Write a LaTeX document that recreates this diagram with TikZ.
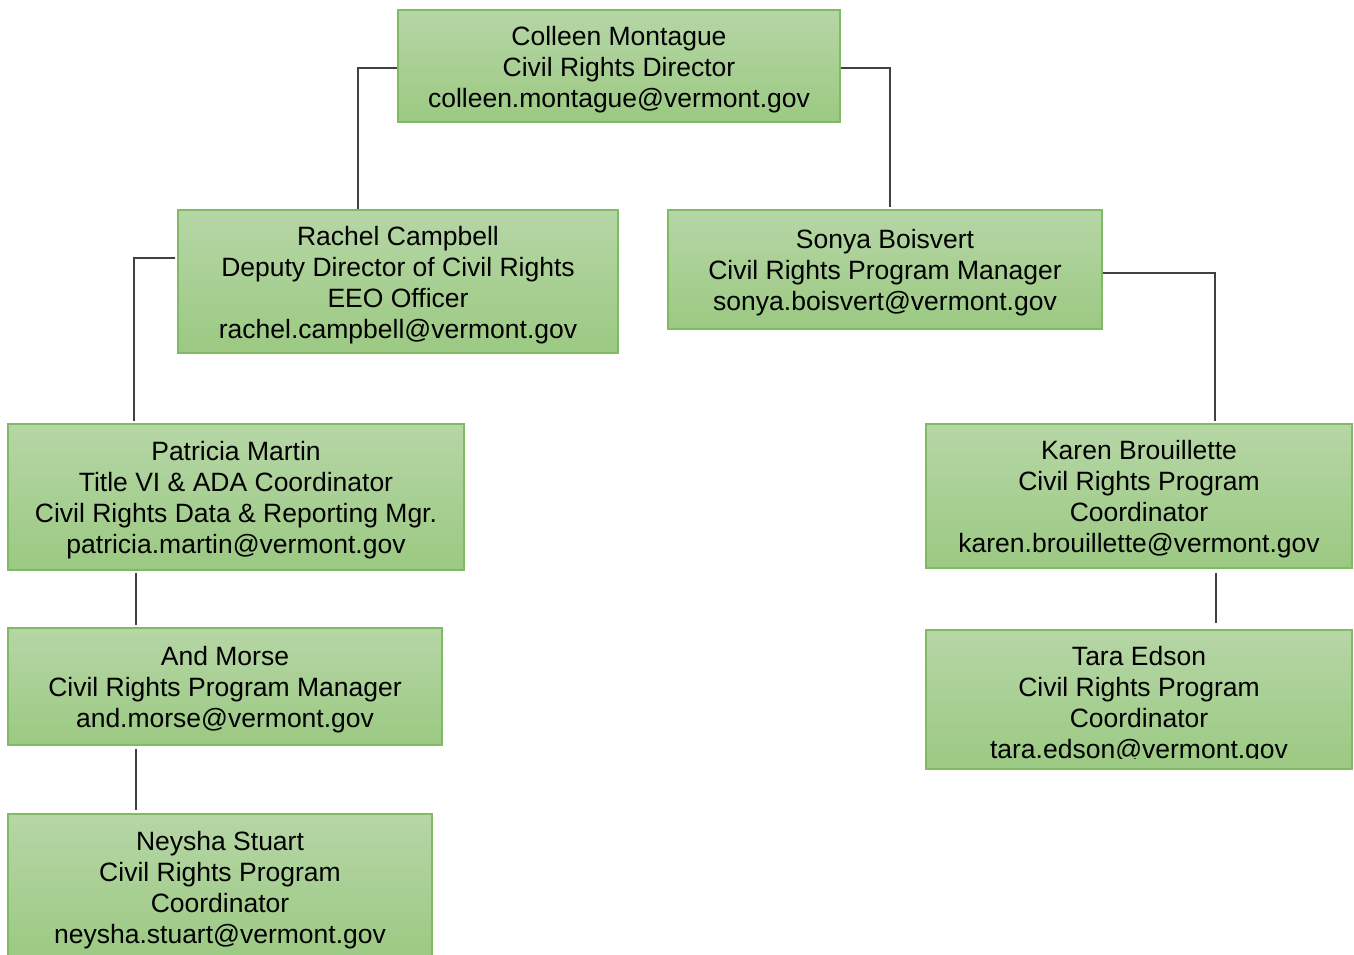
\documentclass[tikz,border=0pt]{standalone}
\usepackage{fontspec}
\setmainfont{Liberation Sans}
\usetikzlibrary{calc}
\definecolor{gtop}{RGB}{182,214,166}
\definecolor{gbot}{RGB}{155,201,130}
\definecolor{gborder}{RGB}{128,186,98}
\definecolor{conn}{RGB}{64,64,64}
\newcommand{\topstrut}{\rule{0pt}{26pt}}
\tikzset{
  boxtext/.style={align=center, inner sep=0pt, font=\fontsize{26.5pt}{31pt}\selectfont},
  box/.style={boxtext, draw=gborder, line width=1.2pt, top color=gtop, bottom color=gbot},
  link/.style={draw=conn, line width=1.4pt}
}
\begin{document}
\begin{tikzpicture}[x=1pt,y=-1pt]
\clip (0,0) rectangle (1354,955);
\fill[white] (0,0) rectangle (1354,955);
% boxes
\node[box, minimum width=442pt, minimum height=112pt] (colleen) at (619,66)
  {\topstrut Colleen Montague\\Civil Rights Director\\colleen.montague@vermont.gov};
\node[box, minimum width=440pt, minimum height=143pt] (rachel) at (398,281.5)
  {\topstrut Rachel Campbell\\Deputy Director of Civil Rights\\EEO Officer\\rachel.campbell@vermont.gov};
\node[box, minimum width=434pt, minimum height=119pt] (sonya) at (885,269.5)
  {\topstrut Sonya Boisvert\\Civil Rights Program Manager\\sonya.boisvert@vermont.gov};
\node[box, minimum width=456pt, minimum height=146pt] (patricia) at (236,497)
  {\topstrut Patricia Martin\\Title VI \& ADA Coordinator\\Civil Rights Data \& Reporting Mgr.\\patricia.martin@vermont.gov};
\node[box, minimum width=426pt, minimum height=144pt] (karen) at (1139,496)
  {\topstrut Karen Brouillette\\Civil Rights Program\\Coordinator\\karen.brouillette@vermont.gov};
\node[box, minimum width=434pt, minimum height=117pt] (morse) at (225,686.5)
  {\topstrut And Morse\\Civil Rights Program Manager\\and.morse@vermont.gov};
\node[box, minimum width=426pt, minimum height=139pt] (tara) at (1139,699.5) {};
\begin{scope}
  \clip ($(tara.north west)$) rectangle ($(tara.south east)+(0,-11)$);
  \node[boxtext] (taratext) at ($(tara.center)+(0,2.5)$)
    {\topstrut Tara Edson\\Civil Rights Program\\Coordinator\\tara.edson@vermont.gov};
\end{scope}
\node[box, minimum width=424pt, minimum height=146pt] (neysha) at (220,887)
  {\topstrut Neysha Stuart\\Civil Rights Program\\Coordinator\\neysha.stuart@vermont.gov};
% connectors
\draw[link] ([yshift=-2pt]colleen.west) -| ([xshift=-40pt]rachel.north);
\draw[link] ([yshift=-2pt]colleen.east) -| ([xshift=5pt,yshift=2pt]sonya.north);
\draw[link] ([xshift=-2pt,yshift=23.5pt]rachel.west) -| ([xshift=-102pt,yshift=2pt]patricia.north);
\draw[link] ([yshift=-3.5pt]sonya.east) -| ([xshift=76pt,yshift=2pt]karen.north);
\draw[link] ([xshift=-100pt,yshift=-2pt]patricia.south) -- ([xshift=-89pt,yshift=2pt]morse.north);
\draw[link] ([xshift=-89pt,yshift=-3pt]morse.south) -- ([xshift=-84pt,yshift=3pt]neysha.north);
\draw[link] ([xshift=77pt,yshift=-4pt]karen.south) -- ([xshift=77pt,yshift=6pt]tara.north);
\end{tikzpicture}
\end{document}
